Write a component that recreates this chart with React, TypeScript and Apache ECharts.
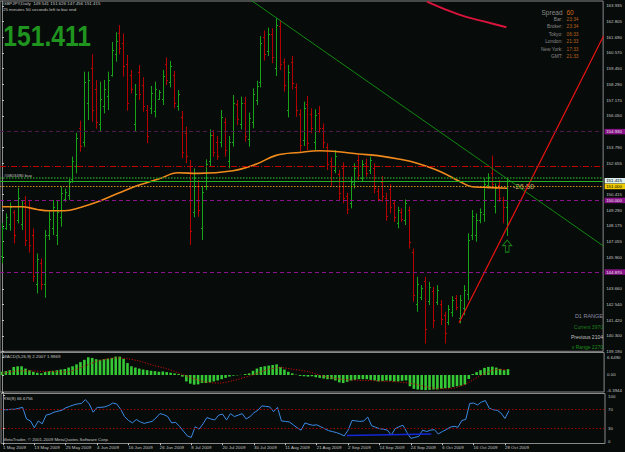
import React, { useEffect, useRef } from "react";
import * as echarts from "echarts";

// ---------- DATA ----------
const OPEN = [146.0,148.0,148.3,149.2,148.6,148.3,149.8,149.5,147.5,144.0,
145.5,144.0,147.5,148.0,147.5,148.8,150.1,150.4,151.5,152.5,
155.2,154.2,157.0,159.5,158.0,155.5,156.8,157.5,159.0,160.5,
162.0,161.3,159.8,159.0,155.5,159.2,158.3,156.5,156.6,156.4,
157.3,157.3,159.8,158.5,159.0,156.8,156.0,154.8,152.5,149.2,
151.0,148.0,151.0,152.8,154.7,154.2,154.2,155.6,152.8,154.2,
156.9,155.5,157.0,154.4,155.6,157.2,158.5,161.7,160.7,161.9,
159.5,162.5,159.9,156.5,159.9,158.1,156.2,154.3,156.9,156.2,
154.2,156.3,155.2,153.8,152.8,152.2,151.9,152.3,150.3,149.8,
151.2,152.9,151.6,152.7,152.2,152.3,150.7,151.3,150.2,150.8,
149.8,148.4,149.2,148.6,149.3,146.3,142.6,143.1,144.2,142.8,
143.5,142.7,142.6,141.8,141.3,142.0,143.0,141.6,142.3,143.3,
147.5,147.5,148.6,149.0,151.1,152.0,149.6,151.1,150.0,149.541];
const HIGH = [148.40,149.07,149.86,149.31,150.91,150.03,150.32,150.03,148.00,146.20,
145.85,147.88,149.24,150.03,150.03,150.98,150.86,151.53,153.14,154.85,
155.72,159.23,159.23,160.47,158.63,158.51,158.63,159.23,161.35,162.05,
162.57,161.97,160.42,159.35,158.34,159.71,158.82,156.84,158.20,158.51,
157.91,159.35,160.25,159.99,159.28,157.91,156.41,155.28,152.90,152.30,
151.46,151.03,152.94,155.09,155.05,154.62,156.48,155.93,154.62,157.55,
157.20,157.44,157.44,156.29,158.03,158.58,161.78,162.17,162.38,162.33,
163.05,162.93,160.18,159.71,160.35,158.39,156.53,157.08,157.48,156.60,
156.53,156.77,155.52,154.09,153.09,153.61,152.18,152.73,150.55,151.70,
152.66,153.25,152.90,152.99,153.14,152.66,150.91,151.75,150.55,151.17,
150.03,149.55,149.43,150.07,149.55,146.56,144.53,143.93,144.53,144.17,
143.81,143.93,142.86,142.02,142.50,143.14,143.22,143.22,143.93,147.64,
149.31,149.07,149.43,151.58,151.94,153.21,151.22,151.46,150.27,151.626];
const LOW = [145.49,147.88,147.83,146.92,148.36,147.88,146.73,146.25,144.17,143.34,
143.58,143.03,147.16,147.52,146.80,148.12,149.91,150.03,151.27,151.94,
153.49,153.85,155.76,155.64,155.14,154.93,156.24,156.48,158.87,159.94,
160.47,158.87,156.43,157.67,154.93,157.20,156.36,154.09,156.19,155.95,
157.20,156.84,158.27,158.10,156.60,156.43,153.02,152.66,146.80,148.79,
148.83,147.16,150.74,152.42,153.13,152.90,153.80,153.13,152.30,153.85,
155.40,155.09,154.21,153.85,155.17,156.84,158.10,160.02,160.35,159.83,
158.92,159.35,157.79,155.95,157.96,156.00,153.49,153.90,153.61,154.81,
153.61,154.85,153.73,152.18,150.98,151.94,150.03,149.79,149.02,149.43,
150.86,151.46,151.34,151.70,151.89,150.51,149.91,149.91,148.55,149.07,
148.47,148.00,148.47,148.24,146.56,142.74,142.02,142.86,139.75,142.50,
140.83,142.50,141.07,139.75,141.07,141.66,142.14,141.19,141.78,142.86,
147.16,147.04,148.36,148.47,150.86,150.86,149.07,149.91,148.36,147.456];
const CLOSE = [148.0,148.8,149.5,147.5,150.2,149.6,147.2,146.8,144.6,145.8,
144.0,147.5,148.7,149.5,149.2,150.5,150.6,151.3,152.8,154.5,
153.9,158.5,158.6,156.5,155.6,157.3,158.0,158.6,160.8,161.4,
160.9,159.6,157.0,158.0,157.6,157.6,156.8,154.6,157.7,158.0,
157.8,158.9,158.6,159.6,157.0,157.6,153.5,153.2,147.8,151.6,
149.3,150.6,152.6,154.7,153.5,153.2,156.0,153.6,154.2,157.0,
155.8,157.0,154.6,155.9,157.6,158.2,161.3,160.5,161.9,160.3,
162.6,159.8,158.3,159.2,158.4,156.5,154.0,156.6,154.1,155.2,
156.1,155.2,154.2,152.6,151.4,153.2,150.5,150.2,149.4,151.3,
152.3,151.8,152.6,152.0,152.9,150.9,150.1,150.3,148.9,149.5,
148.8,149.3,148.7,149.8,147.0,143.2,144.0,143.7,140.8,143.8,
141.4,143.6,141.5,140.5,142.2,142.9,142.4,142.9,143.6,147.2,
148.9,148.6,149.2,151.2,151.7,151.2,150.9,150.2,149.5,151.415];

const MA_BARS = [0,5,9,12,16,20,25,30,35,40,45,50,59,65,70,76,81,86,91,96,102,106,112,117,120,123,129];
const MA_VALUES = [149.55,149.55,149.35,149.26,149.26,149.50,149.96,150.55,151.10,151.53,151.98,151.94,152.13,152.61,153.23,153.44,153.56,153.49,153.33,153.21,152.93,152.66,152.06,151.34,150.98,150.94,150.87];

const GREEN_TREND_BARS = [63.5, 153.6];
const GREEN_TREND_PRICES = [164.365, 146.73];
const RED_TREND_BARS = [116.7, 153.6];
const RED_TREND_PRICES = [141.23, 161.78];
const RED_CURVE_BARS = [108.5, 114.0, 118.3, 123.3, 128.8];
const RED_CURVE_PRICES = [164.25, 163.60, 163.17, 162.81, 162.41];

const ARROW_BAR = 129;
const ARROW_PRICE = 146.73;

const LEVEL_PURPLE = [154.93, 150.0, 144.87];
const LEVEL_PURPLE_LABELS = ["154.930", "150.000", "144.870"];
const LEVEL_RED = 152.46;
const LEVEL_ORDER = 151.63;
const LEVEL_BID = 151.415;
const LEVEL_ORANGE = 151.0;

const MACD_HIST = [1.21,1.45,1.82,3.03,3.27,3.27,2.42,1.82,1.21,0.85,
0.61,1.09,1.45,1.58,1.82,2.06,2.30,2.79,3.27,4.00,
4.85,5.70,6.67,6.42,5.94,5.70,5.94,6.18,6.42,6.91,
6.91,6.06,4.48,3.27,2.79,2.42,2.06,1.82,1.58,1.45,
1.21,1.33,1.09,0.85,0.61,0.36,-0.61,-2.42,-3.27,-3.64,
-3.52,-3.03,-3.03,-2.79,-2.42,-2.06,-1.58,-1.09,-0.61,-0.24,
-0.12,0.05,0.36,0.61,1.58,2.42,3.03,3.27,3.52,3.76,
4.00,3.03,2.06,1.21,0.61,0.12,-0.36,-0.48,-0.61,-0.48,
-0.85,-1.09,-1.33,-1.58,-1.58,-2.06,-2.79,-3.03,-2.55,-2.06,
-1.82,-1.58,-1.58,-1.58,-1.82,-2.06,-2.42,-2.30,-2.06,-2.18,
-2.42,-2.42,-2.18,-2.06,-4.24,-5.21,-5.45,-5.58,-5.70,-5.58,
-5.45,-5.45,-5.21,-4.97,-4.85,-4.48,-4.24,-4.00,-3.64,-1.50,
0.36,1.09,1.82,2.67,3.03,3.15,2.79,2.30,1.82,2.20];
const SIG_BARS = [0,4.6,11.4,16.4,21.5,24.9,29.2,31.7,35.1,38.5,41.9,45.3,48.6,52,55.4,58.8,63.9,67.3,70.7,74.1,78.3,80.8,84.2,88.5,97,103.7,109.6,113,116.4,119,121.5,124,126.5,128.7];
const SIG_VALUES = [0.61,1.58,1.33,1.21,3.64,5.45,6.42,6.18,5.21,3.64,2.42,0.61,-1.21,-2.67,-3.03,-2.18,0,1.82,2.79,2.18,1.21,0,-1.09,-1.82,-2.30,-3.03,-4.85,-5.21,-4.48,-2.79,-0.61,1.21,2.06,1.99];

const RSI = [69,69,70,70,72,74,50,46,32,46,
40,58,60,64,66,68,73,76,79,81,
82,90,81,64,74,74,75,78,83,81,
70,55,47,42,49,44,41,43,45,52,
61,59,55,42,43,35,25,15,12,34,
29,40,53,50,48,58,60,48,61,55,
58,61,50,55,63,68,77,76,75,65,
74,46,45,44,38,32,27,42,39,37,
38,34,30,26,24,22,19,15,27,47,
46,45,46,54,36,33,30,29,27,17,
30,34,37,22,10,12,14,27,24,27,
28,19,24,28,33,35,33,47,49,82,
83,79,85,88,72,69,68,62,51,67];
const RSI_SEG_BARS = [87.7, 109.2];
const RSI_SEG_VALUES = [16, 19];

const XTICK_LABELS = ["1 May 2009","13 May 2009","25 May 2009","4 Jun 2009","16 Jun 2009","26 Jun 2009","8 Jul 2009","20 Jul 2009","30 Jul 2009","11 Aug 2009","21 Aug 2009","2 Sep 2009","14 Sep 2009","24 Sep 2009","6 Oct 2009","16 Oct 2009","28 Oct 2009"];
const LABEL_EVERY = 8;
const SLOTS = 154;

const PRICE_TICKS = ["139.190","140.300","141.420","142.540","143.660","145.900","147.055","148.175","149.290","150.415","152.655","153.790","156.050","157.170","158.290","159.450","160.570","161.690","162.805","163.935"];
const MACD_TICKS = ["-6.3944","0.00","6.6490"];
const RSI_TICKS = ["0","30","70","100"];

const INFO_LABELS = ["Bar:","Broker:","Tokyo:","London:","New York:","GMT:"];
const INFO_VALUES = ["23:34","23:34","06:33","21:33","17:33","21:33"];

// ---------- STYLE ----------
const BG = "#070b09";
const TXT = "#c4c4c4";
const BORDER = "#8a8a8a";
const FONT = "'Liberation Sans', Arial, sans-serif";
const GREEN = "#17a317";
const RED = "#b40000";
const FS = 4.4;

function buildOption(): any {
  const cats = Array.from({ length: SLOTS }, (_, i) => String(i));
  const tickInterval = (i: number) => i % LABEL_EVERY === 0 && i / LABEL_EVERY < XTICK_LABELS.length;
  const catAxis = (gridIndex: number, show: boolean) => ({
    type: "category", gridIndex, data: cats, boundaryGap: true,
    axisLine: { show: false },
    axisTick: { show, interval: tickInterval, length: 2, alignWithLabel: true, lineStyle: { color: TXT } },
    axisLabel: {
      show, interval: tickInterval, align: "left", fontSize: FS, color: TXT, margin: 2, fontFamily: FONT,
      formatter: (_v: string, i: number) => XTICK_LABELS[i / LABEL_EVERY] ?? "",
    },
    splitLine: { show: false },
  });
  const valAxis = (gridIndex: number) => ({ type: "value", gridIndex, min: -0.5, max: SLOTS - 0.5, show: false, position: "top" });
  const pair = (xs: number[], ys: number[]) => xs.map((x, i) => [x, ys[i]]);
  const yBase = (gridIndex: number, min: number, max: number, ticks: string[], extra: any = {}) => ({
    type: "value", gridIndex, position: "right", min, max, scale: true,
    axisLine: { show: true, lineStyle: { color: BORDER } },
    axisTick: { show: true, length: 2, customValues: ticks.map(Number), lineStyle: { color: TXT } },
    axisLabel: {
      customValues: ticks.map(Number), fontSize: FS, color: TXT, margin: 3, fontFamily: FONT,
      formatter: (v: number) => { const k = ticks.find((t) => Math.abs(Number(t) - v) < 1e-6); return k ?? ""; },
      ...extra,
    },
    splitLine: { show: false },
  });

  const ohlc = OPEN.map((o, i) => [i, o, HIGH[i], LOW[i], CLOSE[i]]);

  const boxLabel = (text: string, bg: string, color: string) => ({
    show: true, position: "end", formatter: text, color, backgroundColor: bg, fontSize: FS,
    fontFamily: FONT, padding: [1, 3, 0.5, 1.5], distance: 1.5,
  });
  const purpleDash = (c: string) => ({ color: c, type: [4, 3], width: 1 });
  const purpleColors = ["#4e1a4e", "#8a138a", "#8a138a"];

  return {
    animation: false,
    backgroundColor: BG,
    grid: [
      { left: 0, top: 1, width: 605, height: 350.3, show: true, borderColor: BORDER, borderWidth: 1 },
      { left: 0, top: 352.5, width: 605, height: 39.5, show: true, borderColor: BORDER, borderWidth: 1 },
      { left: 0, top: 393.5, width: 605, height: 50, show: true, borderColor: BORDER, borderWidth: 1 },
    ],
    xAxis: [catAxis(0, false), valAxis(0), catAxis(1, false), valAxis(1), catAxis(2, true), valAxis(2)],
    yAxis: [
      yBase(0, 139.19, 164.29, PRICE_TICKS),
      yBase(1, -6.3944, 8.46, MACD_TICKS, { verticalAlignMinLabel: "bottom", verticalAlignMaxLabel: "middle" }),
      yBase(2, -0.6, 102.6, RSI_TICKS, { verticalAlignMinLabel: "bottom", verticalAlignMaxLabel: "top" }),
    ],
    series: [
      {
        type: "custom", xAxisIndex: 0, yAxisIndex: 0, data: ohlc, clip: true,
        encode: { x: 0, y: [1, 2, 3, 4] },
        renderItem: (_p: any, api: any) => {
          const i = api.value(0);
          const o = api.value(1), h = api.value(2), l = api.value(3), c = api.value(4);
          const px = api.coord([i, h]);
          const x = Math.round(px[0]) + 0.5;
          const yh = px[1];
          const yl = api.coord([i, l])[1];
          const yo = Math.round(api.coord([i, o])[1]) + 0.5;
          const yc = Math.round(api.coord([i, c])[1]) + 0.5;
          const col = c >= o ? GREEN : RED;
          const st = { stroke: col, lineWidth: 1 };
          return {
            type: "group",
            children: [
              { type: "line", shape: { x1: x, y1: yh, x2: x, y2: yl }, style: st },
              { type: "line", shape: { x1: x - 1.5, y1: yo, x2: x, y2: yo }, style: st },
              { type: "line", shape: { x1: x, y1: yc, x2: x + 1.5, y2: yc }, style: st },
            ],
          };
        },
        z: 2,
      },
      {
        type: "line", xAxisIndex: 1, yAxisIndex: 0, data: pair(MA_BARS, MA_VALUES), smooth: 0.4,
        symbol: "none", lineStyle: { color: "#f08a1c", width: 1.6 }, z: 4,
        markLine: {
          silent: true, symbol: ["none", "none"], animation: false,
          data: [
            { yAxis: LEVEL_RED, lineStyle: { color: "#c00000", type: [6, 2, 1, 2], width: 1 }, label: { show: false } },
            { yAxis: LEVEL_ORDER, lineStyle: { color: "#1f8f1f", type: [1.5, 1.5], width: 1.6 }, label: { show: false } },
            { yAxis: LEVEL_BID, lineStyle: { color: "#22b022", type: "solid", width: 1 }, label: boxLabel("151.415", "#dceeee", "#000") },
            { yAxis: LEVEL_ORANGE, lineStyle: { color: "#d08a1a", type: [1.5, 1.5], width: 1 }, label: boxLabel("151.000", "#f0cc00", "#000") },
            ...LEVEL_PURPLE.map((p, k) => ({ yAxis: p, lineStyle: purpleDash(purpleColors[k]), label: boxLabel(LEVEL_PURPLE_LABELS[k], "#8a138a", "#e0e0e0") })),
          ],
        },
      },
      { type: "line", xAxisIndex: 1, yAxisIndex: 0, data: pair(GREEN_TREND_BARS, GREEN_TREND_PRICES), symbol: "none", lineStyle: { color: "#118a11", width: 1 }, z: 3 },
      { type: "line", xAxisIndex: 1, yAxisIndex: 0, data: pair(RED_TREND_BARS, RED_TREND_PRICES), symbol: "none", lineStyle: { color: "#e81414", width: 1.2 }, z: 3 },
      { type: "line", xAxisIndex: 1, yAxisIndex: 0, data: pair(RED_CURVE_BARS, RED_CURVE_PRICES), smooth: 0.4, symbol: "none", lineStyle: { color: "#d8143c", width: 2 }, z: 3 },
      {
        type: "scatter", xAxisIndex: 1, yAxisIndex: 0, data: [[ARROW_BAR, ARROW_PRICE]],
        symbol: "path://M5,0 L10,6 L7,6 L7,13 L3,13 L3,6 L0,6 Z", symbolSize: [9, 12],
        itemStyle: { color: "rgba(0,0,0,0)", borderColor: "#1f9a1f", borderWidth: 1 }, z: 5,
      },
      {
        type: "bar", xAxisIndex: 2, yAxisIndex: 1, data: MACD_HIST, barWidth: 2.6,
        itemStyle: { color: "#35c935" }, z: 2,
      },
      {
        type: "line", xAxisIndex: 3, yAxisIndex: 1, data: pair(SIG_BARS, SIG_VALUES), smooth: 0.3,
        symbol: "none", lineStyle: { color: "#c01010", type: [1.2, 1.5], width: 1 }, z: 3,
      },
      {
        type: "line", xAxisIndex: 4, yAxisIndex: 2, data: RSI, symbol: "none",
        lineStyle: { color: "#3a8ae6", width: 1 }, z: 3,
        markLine: {
          silent: true, symbol: ["none", "none"],
          lineStyle: { color: "#a00000", type: [1.5, 2], width: 1 }, label: { show: false },
          data: [{ yAxis: 70 }, { yAxis: 30 }],
        },
      },
      { type: "line", xAxisIndex: 5, yAxisIndex: 2, data: pair(RSI_SEG_BARS, RSI_SEG_VALUES), symbol: "none", lineStyle: { color: "#1428d8", width: 1.4 }, z: 4 },
    ],
    graphic: [
      { type: "text", x: 3, y: 3.5, style: { text: "GBPJPY,Daily  149.541 151.626 147.456 151.415", fill: TXT, fontSize: FS, fontFamily: FONT, verticalAlign: "middle" } },
      { type: "text", x: 3, y: 9.5, style: { text: "25 minutes 50 seconds left to bar end", fill: TXT, fontSize: FS, fontFamily: FONT, verticalAlign: "middle" } },
      { type: "text", x: 3.3, y: 36, scaleX: 0.85, style: { text: "151.411", fill: "#1f941f", fontSize: 29, fontWeight: "bold", fontFamily: FONT, verticalAlign: "middle" } },
      { type: "text", x: 4, y: 175, style: { text: "#0803490 buy", fill: TXT, fontSize: FS, fontFamily: FONT, verticalAlign: "middle" } },
      { type: "text", x: 513, y: 186, style: { text: "-26.50", fill: "#c2b46a", fontSize: 7.5, fontFamily: FONT, verticalAlign: "middle" } },
      { type: "text", x: 562.5, y: 12.7, style: { text: "Spread", fill: "#8a8a8a", fontSize: 6.5, fontFamily: FONT, align: "right", verticalAlign: "middle" } },
      { type: "text", x: 566.5, y: 12.7, style: { text: "60", fill: "#d06a1c", fontSize: 6.5, fontFamily: FONT, verticalAlign: "middle" } },
      ...INFO_LABELS.map((t, k) => ({ type: "text", x: 562.5, y: 19.2 + k * 7.45, style: { text: t, fill: "#8a8a8a", fontSize: 4.8, fontFamily: FONT, align: "right", verticalAlign: "middle" } })),
      ...INFO_VALUES.map((t, k) => ({ type: "text", x: 566.5, y: 19.2 + k * 7.45, style: { text: t, fill: "#b8601e", fontSize: 4.8, fontFamily: FONT, verticalAlign: "middle" } })),
      { type: "text", x: 603, y: 316, style: { text: "D1 RANGE", fill: "#8c8ca4", fontSize: 5.5, fontFamily: FONT, align: "right", verticalAlign: "middle" } },
      { type: "text", x: 603, y: 327.3, style: { text: "Current 3970", fill: "#1f7f1f", fontSize: 5, fontFamily: FONT, align: "right", verticalAlign: "middle" } },
      { type: "text", x: 603, y: 336.7, style: { text: "Previous 2104", fill: "#c4c4c4", fontSize: 5, fontFamily: FONT, align: "right", verticalAlign: "middle" } },
      { type: "text", x: 603, y: 346.5, style: { text: "x Range 2270", fill: "#1f8f1f", fontSize: 5, fontFamily: FONT, align: "right", verticalAlign: "middle" } },
      { type: "text", x: 3, y: 356.8, style: { text: "MACD(5,26,9) 2.2007 1.9869", fill: TXT, fontSize: FS, fontFamily: FONT, verticalAlign: "middle" } },
      { type: "text", x: 3, y: 398, style: { text: "RSI(8) 66.6756", fill: TXT, fontSize: FS, fontFamily: FONT, verticalAlign: "middle" } },
      { type: "text", x: 3, y: 439.5, style: { text: "MetaTrader, © 2001-2009 MetaQuotes Software Corp.", fill: TXT, fontSize: FS, fontFamily: FONT, verticalAlign: "middle" } },
    ],
  };
}

export default function App() {
  const ref = useRef<HTMLDivElement>(null);
  useEffect(() => {
    document.body.style.margin = "0";
    const chart = echarts.init(ref.current!, null, { renderer: "svg" });
    chart.setOption(buildOption());
    return () => chart.dispose();
  }, []);
  return <div ref={ref} style={{ position: "absolute", left: 0, top: 0, width: 625, height: 452, background: BG }} />;
}
